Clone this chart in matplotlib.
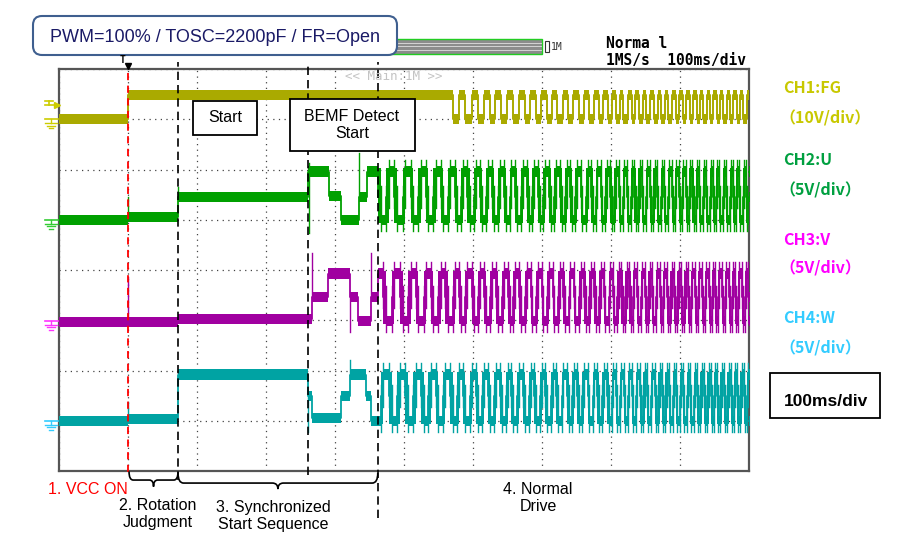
import numpy as np
import matplotlib.pyplot as plt
from matplotlib.patches import FancyBboxPatch, Rectangle, PathPatch
from matplotlib.path import Path

# ---- values: time in ms, levels in vertical divisions ----
TIME_DIV_MS = 100
N_XDIV, N_YDIV = 10, 8

vcc_on_ms = 100
phase_ms = [172.5, 361, 462]          # end of rotation judgment, BEMF detect start, normal drive

fg_low, fg_high = 7.0, 7.48
fg_fall_ms = [571, 589, 607, 624, 641, 658, 675, 691, 707, 722, 738, 753, 768, 782,
              795, 807, 818, 830, 841, 851, 862, 873, 883, 894, 904, 914, 924, 934,
              944, 953, 963, 973, 982, 992, 1002]

# low / floating / high level of each motor phase
u_levels = {'L': 5.0, 'F': 5.46, 'H': 5.96}
v_levels = {'L': 2.99, 'F': 3.46, 'H': 3.93}
w_levels = {'L': 1.0, 'F': 1.49, 'H': 1.92}

# start-up part (before normal drive), read step by step
u_start_ms = [0, 100, 172.5, 361, 391, 408, 435, 446]
u_start_div = [5.0, 5.05, 5.46, 5.96, 5.48, 5.0, 5.46, 5.96]
v_start_ms = [0, 172.5, 366, 390, 422, 434, 452]
v_start_div = [2.97, 3.03, 3.46, 3.93, 3.46, 2.99, 3.46]
w_start_ms = [0, 100, 172.5, 361, 366, 408, 422, 445.5, 452]
w_start_div = [1.0, 1.03, 1.92, 1.49, 1.06, 1.49, 1.92, 1.49, 1.0]

# switching spikes during start-up
u_spike_ms, u_spike_div = [100, 172.5, 362, 363, 435], [5.45, 5.65, 4.74, 6.13, 6.33]
v_spike_ms, v_spike_div = [100, 366, 422, 452], [3.87, 4.34, 2.77, 4.34]
w_spike_ms, w_spike_div = [100, 361, 422], [1.38, 0.78, 2.2]

# normal drive: start of each electrical cycle, and the 6-step commutation (U, V, W)
drive_cycle_ms = [462, 486, 510, 532, 553, 574, 592, 610, 627, 645, 661, 678, 694, 710,
                  726, 741, 756, 771, 785, 799, 811, 823, 834, 845, 856, 867, 877, 888,
                  898, 908, 918, 928, 938, 948, 957, 967, 977, 986, 996, 1005]
drive_table = ['FHL', 'LHF', 'LFH', 'FLH', 'HLF', 'HFL']

fg_color, u_color, v_color, w_color = '#AAAA00', '#00A000', '#A000A0', '#00A3A3'

plt.rcParams['font.family'] = ['Liberation Sans', 'DejaVu Sans']

fig = plt.figure(figsize=(9.24, 5.52), dpi=100)
fig.patch.set_facecolor('white')
ax = fig.add_axes([59 / 924, 81 / 552, 690 / 924, 402 / 552])
ov = fig.add_axes([0, 0, 1, 1], zorder=5)
ov.set_xlim(0, 924)
ov.set_ylim(552, 0)
ov.axis('off')
ov.patch.set_visible(False)

t_end = N_XDIV * TIME_DIV_MS
ax.set_xlim(0, t_end)
ax.set_ylim(0, N_YDIV)
ax.set_xticks(np.arange(0, t_end + 1, TIME_DIV_MS))
ax.set_yticks(np.arange(0, N_YDIV + 1))
ax.grid(True, color='#444444', ls=(0, (1, 3.5)), lw=0.9, zorder=0)
ax.set_axisbelow(True)
ax.tick_params(length=0, labelbottom=False, labelleft=False)
for sp in ax.spines.values():
    sp.set_color('#555555')
    sp.set_linewidth(1.6)


def draw_trace(t, lv, color, half=0.075, lw=0.9):
    t = np.append(np.asarray(t, float), t_end)
    lv = np.append(np.asarray(lv, float), lv[-1])
    ax.fill_between(t, lv - half, lv + half, step='post', color=color, lw=0, zorder=3)
    ax.step(t, lv, where='post', color=color, lw=lw, zorder=3)


def level_at(t_list, lv_list, t):
    i = np.searchsorted(t_list, t, side='right') - 1
    return lv_list[max(i, 0)]


# FG
fg_t, fg_v = [0, vcc_on_ms], [fg_low, fg_high]
for a, b in zip(fg_fall_ms[:-1], fg_fall_ms[1:]):
    fg_t += [a, (a + b) / 2]
    fg_v += [fg_low, fg_high]
draw_trace(fg_t, fg_v, fg_color, half=0.1, lw=1.4)

# U, V, W
channels = [(u_start_ms, u_start_div, u_levels, u_color, 0, u_spike_ms, u_spike_div),
            (v_start_ms, v_start_div, v_levels, v_color, 1, v_spike_ms, v_spike_div),
            (w_start_ms, w_start_div, w_levels, w_color, 2, w_spike_ms, w_spike_div)]
for st_ms, st_div, lv, col, k, sp_ms, sp_div in channels:
    t_all, v_all = list(st_ms), list(st_div)
    float_spans = []
    for a, b in zip(drive_cycle_ms[:-1], drive_cycle_ms[1:]):
        step = (b - a) / 6
        for s, state in enumerate(drive_table):
            t_all.append(a + step * s)
            v_all.append(lv[state[k]])
            if state[k] == 'F':
                float_spans.append((a + step * s, step))
    draw_trace(t_all, v_all, col, half=0.1, lw=1.3)
    # floating (BEMF) steps show up as solid blocks at this time base
    ax.broken_barh(float_spans, (lv['L'] - 0.06, lv['H'] - lv['L'] + 0.12),
                   facecolors=col, lw=0, zorder=3)
    # overshoot on every drive transition
    for i in range(len(st_ms) + 1, len(t_all)):
        if v_all[i] != v_all[i - 1]:
            lo, hi = sorted((v_all[i - 1], v_all[i]))
            ax.plot([t_all[i]] * 2, [lo - 0.22, hi + 0.22], color=col, lw=1.0, zorder=3)
    for ts, tip in zip(sp_ms, sp_div):
        base = level_at(t_all, v_all, ts)
        ax.plot([ts, ts], [base, tip], color=col, lw=1.0, zorder=3)

# phase marker lines
ax.plot([vcc_on_ms] * 2, [-0.02, 8.04], color='red', lw=1.3, ls=(0, (4, 3)),
        clip_on=False, zorder=4)
for t, y0 in zip(phase_ms, [-0.18, -0.08, -0.94]):
    ax.plot([t, t], [y0, 8.14], color='black', lw=1.2, ls=(0, (5, 3)),
            clip_on=False, zorder=4)
ax.plot([vcc_on_ms], [8.06], marker='v', color='black', ms=5, clip_on=False, zorder=4)


def brace(x0, x1, ytop, ymid, ytip, r=6):
    xm = (x0 + x1) / 2
    verts = [(x0, ytop), (x0, ymid), (x0 + r, ymid), (xm - r, ymid), (xm, ymid), (xm, ytip),
             (xm, ymid), (xm + r, ymid), (x1 - r, ymid), (x1, ymid), (x1, ytop)]
    codes = [Path.MOVETO, Path.CURVE3, Path.CURVE3, Path.LINETO, Path.CURVE3, Path.CURVE3,
             Path.CURVE3, Path.CURVE3, Path.LINETO, Path.CURVE3, Path.CURVE3]
    ax.add_patch(PathPatch(Path(verts, codes), fill=False, lw=1.2, ec='black',
                           clip_on=False, zorder=4))


brace(vcc_on_ms + 1.5, phase_ms[0], -0.01, -0.18, -0.31)
brace(phase_ms[0], phase_ms[2], -0.04, -0.24, -0.36, r=8)


# ---- overlay: labels, boxes and scope header (pixel coordinates) ----
def to_px(t, d):
    return ov.transData.inverted().transform(ax.transData.transform((t, d)))


ov.add_patch(FancyBboxPatch((33, 16), 364, 39, boxstyle='round,pad=0,rounding_size=9',
                            fc='white', ec='#3F5F8F', lw=1.5, zorder=3))
ov.text(215, 37, 'PWM=100% / TOSC=2200pF / FR=Open', fontsize=13, color='#1A1A66',
        ha='center', va='center', zorder=4)

# memory bar
ov.add_patch(Rectangle((385, 39), 157, 15, fc='#8C8C8C', ec='#22CC22', lw=1.0, zorder=1))
for yy in (42.5, 46, 49.5):
    ov.plot([386, 541], [yy, yy], color='#E0E0E0', lw=0.6, zorder=1)
ov.add_patch(Rectangle((545, 41), 4, 11, fc='white', ec='#333333', lw=0.8))
ov.text(551, 46.5, '1M', family='DejaVu Sans Mono', fontsize=7, va='center', color='#333333')
ov.text(606, 43, 'Norma l', family='DejaVu Sans Mono', fontweight='bold', fontsize=10.5,
        va='center')
ov.text(606, 61, '1MS/s  100ms/div', family='DejaVu Sans Mono', fontweight='bold',
        fontsize=10.5, va='center')
ov.text(345, 76, '<< Main:1M >>', family='DejaVu Sans Mono', fontsize=9, va='center',
        color='#C4C4C4')
ov.text(120, 60, 'T', family='DejaVu Sans Mono', fontsize=7, va='center', fontweight='bold')

# annotation boxes
ov.add_patch(Rectangle((193, 101), 64, 34, fc='white', ec='black', lw=1.3, zorder=3))
ov.text(225, 118, 'Start', fontsize=11.5, ha='center', va='center', zorder=4)
ov.add_patch(Rectangle((290, 99), 125, 52, fc='white', ec='black', lw=1.3, zorder=3))
ov.text(352, 125, 'BEMF Detect\nStart', fontsize=11.5, ha='center', va='center',
        linespacing=1.15, zorder=4)
ov.add_patch(Rectangle((770, 373), 110, 45, fc='white', ec='black', lw=1.3, zorder=3))
ov.text(826, 401, '100ms/div', fontsize=12.5, fontweight='bold', ha='center', va='center',
        zorder=4)

ov.text(88, 490, '1. VCC ON', fontsize=11.5, color='red', ha='center', va='center')
ov.text(158, 514, '2. Rotation\nJudgment', fontsize=11.5, ha='center', va='center',
        linespacing=1.1)
ov.text(273, 516, '3. Synchronized\nStart Sequence', fontsize=11.5, ha='center',
        va='center', linespacing=1.1)
ov.text(538, 498, '4. Normal\nDrive', fontsize=11.5, ha='center', va='center',
        linespacing=1.1)

# channel labels on the right
label_font = ['Noto Sans CJK JP']
labels = [('CH1:FG', '（10V/div）', '#C8C800', 88, 118),
          ('CH2:U', '（5V/div）', '#00A040', 160, 190),
          ('CH3:V', '（5V/div）', '#FF00FF', 240, 268),
          ('CH4:W', '（5V/div）', '#33CCFF', 318, 348)]
for name, scale, col, y1, y2 in labels:
    ov.text(783, y1, name, color=col, fontsize=11.5, fontweight='bold', family=label_font,
            va='center', fontstretch='condensed')
    ov.text(779, y2, scale, color=col, fontsize=11.5, fontweight='bold', family=label_font,
            va='center')

# ground markers at the left edge
gnd = [(fg_low, '#CCCC00'), (u_levels['L'], '#33CC33'), (v_levels['L'], '#FF33FF'),
       (w_levels['L'], '#33CCFF')]
for d, col in gnd:
    x, y = to_px(0, d)
    ov.plot([x - 14, x - 1], [y, y], color=col, lw=1.2)
    ov.plot([x - 8, x - 8], [y, y + 4], color=col, lw=1.0)
    for dy, w in ((4, 6), (6.5, 4), (9, 2)):
        ov.plot([x - 8 - w, x - 8 + w], [y + dy, y + dy], color=col, lw=1.0)
x, y = to_px(0, fg_high - 0.2)
ov.plot([x - 14, x - 2], [y, y], color='#CCCC00', lw=1.2)
ov.plot([x - 10, x - 10], [y - 4, y], color='#CCCC00', lw=1.2)
ov.plot([x - 14, x - 6], [y - 4, y - 4], color='#CCCC00', lw=1.2)
ov.plot([x - 2], [y], marker='>', color='#CCCC00', ms=4)

fig.savefig('out.png', dpi=100, facecolor='white')
